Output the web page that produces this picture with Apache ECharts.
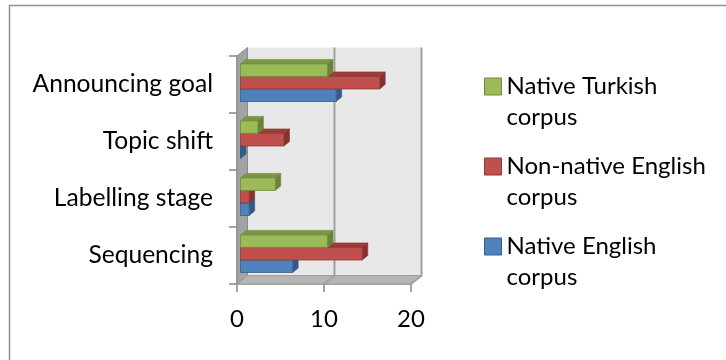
<!DOCTYPE html>
<html><head><meta charset="utf-8">
<script src="https://cdn.jsdelivr.net/npm/echarts@6/dist/echarts.min.js"></script>
<style>html,body{margin:0;padding:0;background:#fff}#c{width:726px;height:360px}</style>
</head><body><div id="c"></div>
<script>
// ---- data ----
const categories = ['Sequencing', 'Labelling stage', 'Topic shift', 'Announcing goal'];
const nativeEnglish = [6, 1, 0, 11];
const nonNativeEnglish = [14, 1, 5, 16];
const nativeTurkish = [10, 4, 2, 10];
const xTicks = [0, 10, 20];
const seriesNames = ['Native English\ncorpus', 'Non-native English\ncorpus', 'Native Turkish\ncorpus'];
const legendOrder = ['Native Turkish\ncorpus', 'Non-native English\ncorpus', 'Native English\ncorpus'];

// ---- styles ----
const FONT = 'Lato';
const palette = [
  { front: '#4f81bd', top: '#3d689c', side: '#345a88', edge: '#385d8a' },
  { front: '#c0504d', top: '#9b3c39', side: '#86322f', edge: '#8c3836' },
  { front: '#9bbb59', top: '#7a9640', side: '#6a8436', edge: '#71893f' }
];
const WALL_DX = 10.5, WALL_DY = -8.5;   // depth of the 3D box
const FACE_DX = 3.5, FACE_DY = -1.8;    // bar front face position inside the box
const BAR_DX = 5.5, BAR_DY = -4.5;      // bar depth
const BAR_FRAC = 0.22;

const chart = echarts.init(document.getElementById('c'));

function renderWalls(params, api) {
  const cs = params.coordSys;
  const L = cs.x, R = cs.x + cs.width, T = cs.y, B = cs.y + cs.height;
  const kids = [
    { type: 'rect', shape: { x: L + WALL_DX, y: T + WALL_DY, width: cs.width, height: cs.height },
      style: { fill: '#e8e8e8' } },
    { type: 'polygon', shape: { points: [[L, T], [L + WALL_DX, T + WALL_DY], [L + WALL_DX, B + WALL_DY], [L, B]] },
      style: { fill: '#a3a3a3', stroke: '#8c8c8c', lineWidth: 1 } },
    { type: 'polygon', shape: { points: [[L, B], [L + WALL_DX, B + WALL_DY], [R + WALL_DX, B + WALL_DY], [R, B]] },
      style: { fill: '#b4b4b4', stroke: '#a0a0a0', lineWidth: 1 } }
  ];
  xTicks.forEach(function (v) {
    if (v === xTicks[0]) return;
    const x = api.coord([v, 0])[0];
    kids.push({ type: 'polyline',
      shape: { points: [[x + WALL_DX, T + WALL_DY], [x + WALL_DX, B + WALL_DY], [x, B]] },
      style: { stroke: '#a0a0a0', lineWidth: 2, fill: null } });
  });
  return { type: 'group', children: kids };
}

function makeBarRenderer(k) {
  const col = palette[k];
  return function (params, api) {
    const v = api.value(0), ci = api.value(1);
    const c0 = api.coord([0, ci]);
    const band = api.size([0, 1])[1];
    const h = band * BAR_FRAC;
    const xL = c0[0] + FACE_DX;
    const xR = api.coord([v, ci])[0] + FACE_DX;
    const yT = c0[1] + FACE_DY + 1.5 * h - (k + 1) * h;
    const yB = yT + h;
    return { type: 'group', children: [
      { type: 'polygon', shape: { points: [[xL, yT], [xL + BAR_DX, yT + BAR_DY], [xR + BAR_DX, yT + BAR_DY], [xR, yT]] },
        style: { fill: col.top, stroke: col.edge, lineWidth: 0.6 } },
      { type: 'polygon', shape: { points: [[xR, yT], [xR + BAR_DX, yT + BAR_DY], [xR + BAR_DX, yB + BAR_DY], [xR, yB]] },
        style: { fill: col.side, stroke: col.edge, lineWidth: 0.6 } },
      { type: 'rect', shape: { x: xL, y: yT, width: xR - xL, height: h },
        style: { fill: col.front, stroke: col.edge, lineWidth: 0.8 } }
    ] };
  };
}

const seriesValues = [nativeEnglish, nonNativeEnglish, nativeTurkish];
const series = [{
  type: 'custom', name: '__walls', silent: true, clip: false, z: 1,
  renderItem: renderWalls, data: [[0, 0]], encode: { x: 0, y: 1 }
}];
seriesValues.forEach(function (vals, k) {
  series.push({
    type: 'custom', name: seriesNames[k], clip: false, z: 2,
    itemStyle: { color: palette[k].front, borderColor: palette[k].edge },
    renderItem: makeBarRenderer(k),
    encode: { x: 0, y: 1 },
    data: vals.map(function (v, i) { return [v, i]; })
  });
});

const axisGrey = '#868686';
chart.setOption({
  animation: false,
  backgroundColor: '#ffffff',
  textStyle: { fontFamily: FONT },
  grid: { left: 237, top: 56, width: 174, height: 228, containLabel: false },
  xAxis: {
    type: 'value', min: xTicks[0], max: xTicks[xTicks.length - 1], interval: xTicks[1] - xTicks[0],
    axisLine: { show: true, lineStyle: { color: axisGrey, width: 1.5 } },
    axisTick: { show: true, length: 8, lineStyle: { color: axisGrey, width: 1.5 } },
    splitLine: { show: false },
    axisLabel: { color: '#000', fontSize: 24, fontFamily: FONT, margin: 23 }
  },
  yAxis: {
    type: 'category', data: categories,
    axisLine: { show: true, lineStyle: { color: axisGrey, width: 1.5 } },
    axisTick: { show: true, length: 8, lineStyle: { color: axisGrey, width: 1.5 } },
    splitLine: { show: false },
    axisLabel: { color: '#000', fontSize: 24.6, fontFamily: FONT, margin: 24, padding: [5, 0, 0, 0] }
  },
  legend: {
    orient: 'vertical', left: 484, top: 71, padding: 0, itemGap: 18,
    itemWidth: 17, itemHeight: 48, selectedMode: false,
    textStyle: { color: '#000', fontSize: 24, lineHeight: 31, fontFamily: FONT },
    data: legendOrder.map(function (n) {
      const k = seriesNames.indexOf(n);
      return { name: n, icon: 'path://M0,0L17,0L17,17L0,17Z M0,48',
        itemStyle: { color: palette[k].front, borderColor: palette[k].edge, borderWidth: 1 } };
    })
  },
  graphic: [{
    type: 'rect', silent: true, z: 100,
    shape: { x: 9.5, y: 5.5, width: 740, height: 380 },
    style: { fill: null, stroke: '#8f8f8f', lineWidth: 1.5 }
  }],
  series: series
});
</script></body></html>
